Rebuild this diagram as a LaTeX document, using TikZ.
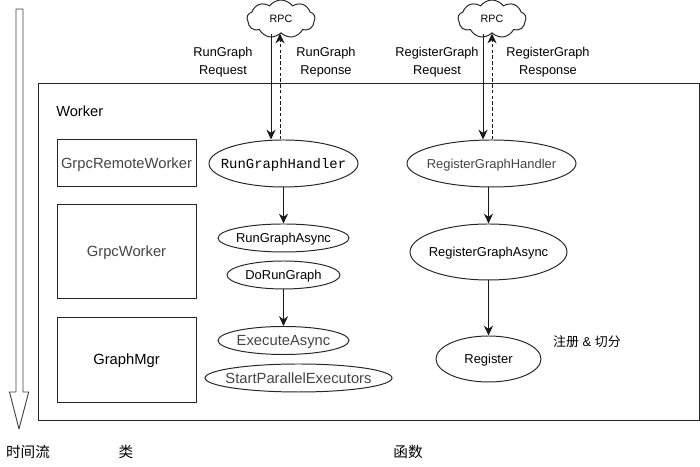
\documentclass[tikz,border=0pt]{standalone}
\usepackage{fontspec}
\setmainfont{Liberation Sans}
\setmonofont{Liberation Mono}
\newfontfamily\cjk{Noto Sans CJK SC}
\usetikzlibrary{arrows.meta, shapes.geometric, shapes.symbols}
\newcommand{\fn}[1]{\makebox[0pt]{#1}}
\definecolor{colsoft}{HTML}{444444}
\tikzset{
    base node/.style={
        draw=black!85, line width=0.7pt, inner sep=0pt, text depth=0pt,
        font=\fontsize{9.2}{11}\selectfont,
    },
    func/.style={base node, ellipse},
    funcbig/.style={func, font=\fontsize{10.5}{12}\selectfont},
    classbox/.style={base node, rectangle, minimum width=3.475cm,
        font=\fontsize{10.5}{12}\selectfont},
    rpc/.style={base node, cloud, cloud puffs=9, cloud puff arc=110,
        aspect=2, minimum width=1.7cm, minimum height=0.95cm,
        font=\fontsize{7.6}{9}\selectfont},
    msg label/.style={align=center, font=\fontsize{9.1}{12.8}\selectfont},
    axis label/.style={font=\fontsize{10.4}{12}\cjk},
    call edge/.style={-{Stealth[length=7pt, width=6.5pt]}, line width=0.7pt,
        draw=black!90},
    reply edge/.style={call edge, dashed, dash pattern=on 2.5pt off 1.6pt},
}
\begin{document}
\begin{tikzpicture}

\useasboundingbox (0, 0) rectangle (17.5, 11.675);

% ===== TIME ARROW =====
\draw[draw=black!75, line width=0.65pt, fill=white, line join=round]
    (0.4, 11.45) -- (0.575, 11.45) -- (0.575, 1.875) -- (0.7175, 1.875)
    -- (0.475, 0.95) -- (0.2375, 1.875) -- (0.4, 1.875) -- cycle;

% ===== WORKER =====
\node[base node, minimum width=16.525cm, minimum height=8.4cm] (worker) at (9.2125, 5.375) {};
\node[anchor=west, inner sep=0pt, font=\fontsize{10.4}{12}\selectfont] (workerlabel) at (1.4, 8.9) {Worker};

% ===== CLASSES =====
\node[classbox, minimum height=1.175cm, text=colsoft] (remote) at (3.1625, 7.5875) {GrpcRemoteWorker};
\node[classbox, minimum height=2.325cm, text=colsoft] (grpcworker) at (3.1625, 5.3875) {GrpcWorker};
\node[classbox, minimum height=2.125cm] (graphmgr) at (3.1625, 2.6875) {GraphMgr};

% ===== RPC =====
\node[rpc] (rpcA) at (7.025, 11.2) {\fn{RPC}};
\node[rpc] (rpcB) at (12.3, 11.2) {\fn{RPC}};
\node[msg label] (reqA) at (5.575, 10.125) {RunGraph\\Request};
\node[msg label] (resA) at (8.15, 10.125) {RunGraph\\Reponse};
\node[msg label] (reqB) at (10.925, 10.125) {RegisterGraph\\Request};
\node[msg label] (resB) at (13.7, 10.125) {RegisterGraph\\Response};

% ===== FUNCTIONS =====
\node[func, minimum width=3.725cm, minimum height=1.175cm, font=\fontsize{9.9}{12}\ttfamily] (handlerA) at (7.0875, 7.5875) {\fn{RunGraphHandler}};
\node[func, minimum width=3.275cm, minimum height=0.7cm] (asyncA) at (7.0875, 5.725) {\fn{RunGraphAsync}};
\node[func, minimum width=2.825cm, minimum height=0.7cm] (dorun) at (7.0875, 4.8) {\fn{DoRunGraph}};
\node[funcbig, minimum width=3.275cm, minimum height=0.7cm, text=colsoft] (execute) at (7.0875, 3.1625) {\fn{ExecuteAsync}};
\node[funcbig, minimum width=4.675cm, minimum height=0.7cm, text=colsoft] (startpar) at (7.4625, 2.225) {\fn{StartParallelExecutors}};
\node[func, minimum width=4.225cm, minimum height=1.175cm, text=colsoft] (handlerB) at (12.2875, 7.5875) {\fn{RegisterGraphHandler}};
\node[func, minimum width=3.925cm, minimum height=1.4cm] (asyncB) at (12.2125, 5.375) {\fn{RegisterGraphAsync}};
\node[func, minimum width=2.625cm, minimum height=1.15cm] (register) at (12.2125, 2.7) {\fn{Register}};
\node[font=\fontsize{9.2}{11}\selectfont] (splitnote) at (14.675, 3.125) {{\cjk 注册} \& {\cjk 切分}};

% ===== AXIS LABELS =====
\node[axis label] (timelabel) at (0.7, 0.375) {时间流};
\node[axis label] (classlabel) at (3.15, 0.375) {类};
\node[axis label] (funclabel) at (10.2, 0.375) {函数};

% ===== EDGES =====
\coordinate (reqAx) at (6.775, 0);
\coordinate (resAx) at (7.0, 0);
\coordinate (reqBx) at (12.075, 0);
\coordinate (resBx) at (12.3, 0);
\draw[call edge] (rpcA.south -| reqAx) -- (handlerA.north -| reqAx);
\draw[reply edge] (handlerA.north -| resAx) -- (rpcA.south -| resAx);
\draw[call edge] (rpcB.south -| reqBx) -- (handlerB.north -| reqBx);
\draw[reply edge] (handlerB.north -| resBx) -- (rpcB.south -| resBx);
\draw[call edge] (handlerA) -- (asyncA);
\draw[call edge] (dorun) -- (execute);
\draw[call edge] (handlerB.south -| asyncB.north) -- (asyncB);
\draw[call edge] (asyncB) -- (register);

\end{tikzpicture}
\end{document}
